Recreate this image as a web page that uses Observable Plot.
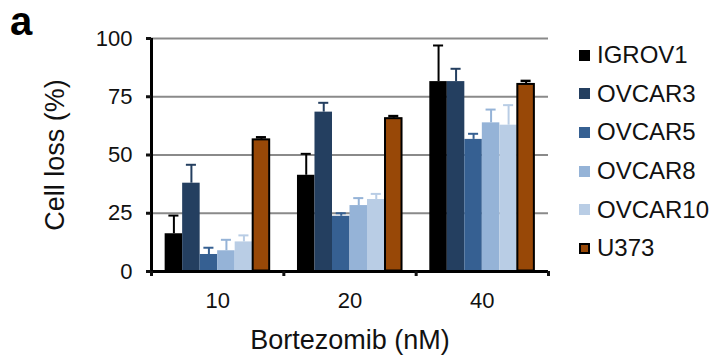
<!DOCTYPE html>
<html>
<head>
<meta charset="utf-8">
<script src="https://cdn.jsdelivr.net/npm/d3@7"></script>
<script src="https://cdn.jsdelivr.net/npm/@observablehq/plot@0.6"></script>
<style>
  html, body { margin: 0; padding: 0; background: #fff; }
  #wrap { position: relative; width: 710px; height: 358px; font-family: "Liberation Sans", Arial, sans-serif; }
  #panel { position: absolute; left: 10px; top: -1px; font-size: 40px; font-weight: bold; line-height: normal; }
  #legend { position: absolute; left: 579px; top: 36px; font-size: 24px; color: #111; }
  .item { display: flex; align-items: center; height: 38.6px; }
  .sw { width: 11px; height: 11px; margin-right: 7px; box-sizing: border-box; flex: none; }
</style>
</head>
<body>
<div id="wrap">
  <div id="chart"></div>
  <div id="panel">a</div>
  <div id="legend"></div>
</div>
<script>
const categories = ["10", "20", "40"];
const series = ["IGROV1", "OVCAR3", "OVCAR5", "OVCAR8", "OVCAR10", "U373"];
const colors = ["#000000", "#243F60", "#366092", "#95B3D7", "#B9CDE5", "#984807"];
const yTicks = [0, 25, 50, 75, 100];

const IGROV1  = [16.2, 41.3, 81.5];
const OVCAR3  = [37.9, 68.4, 81.5];
const OVCAR5  = [7.3, 23.7, 56.7];
const OVCAR8  = [8.9, 28.3, 63.8];
const OVCAR10 = [12.7, 30.9, 62.8];
const U373    = [56.7, 65.8, 80.5];

const IGROV1_err  = [7.8, 9.2, 15.5];
const OVCAR3_err  = [7.9, 4.0, 5.5];
const OVCAR5_err  = [2.9, 1.3, 2.4];
const OVCAR8_err  = [4.7, 3.2, 5.7];
const OVCAR10_err = [2.8, 2.4, 8.6];
const U373_err    = [0.9, 0.9, 1.3];

const values = [IGROV1, OVCAR3, OVCAR5, OVCAR8, OVCAR10, U373];
const errors = [IGROV1_err, OVCAR3_err, OVCAR5_err, OVCAR8_err, OVCAR10_err, U373_err];

const barW = 0.1323;   // bar width in group units
const capW = 0.038;    // half cap width in group units

const rows = [];
categories.forEach((c, ci) => {
  series.forEach((s, si) => {
    const x1 = (ci + 1) + (si - 3) * barW;
    rows.push({cat: c, series: s, value: values[si][ci], err: errors[si][ci],
               x1, x2: x1 + barW, xc: x1 + barW / 2});
  });
});
const bounds = d3.range(categories.length + 1).map(i => i + 0.5);
const centers = categories.map((c, i) => i + 1);

const isU = d => d.series === "U373";

const chart = Plot.plot({
  width: 710,
  height: 358,
  marginLeft: 151,
  marginRight: 162,
  marginTop: 38,
  marginBottom: 87,
  style: {fontFamily: "'Liberation Sans', Arial, sans-serif", fontSize: "22px", color: "#111", background: "#fff"},
  x: {type: "linear", domain: [0.5, categories.length + 0.5]},
  y: {domain: [0, 100]},
  color: {domain: series, range: colors},
  marks: [
    Plot.ruleY([25, 50, 75, 100], {stroke: "#8a8a8a", strokeWidth: 2}),
    Plot.rectY(rows, {x1: "x1", x2: "x2", y1: 0, y2: "value", fill: "series"}),
    Plot.rectY(rows.filter(isU), {x1: "x1", x2: "x2", y1: 0, y2: "value", fill: "series", stroke: "#000", strokeWidth: 2, inset: 0.5}),
    Plot.ruleX(rows.filter(d => !isU(d)), {x: "xc", y1: "value", y2: d => d.value + d.err, stroke: "series", strokeWidth: 2}),
    Plot.ruleY(rows.filter(d => !isU(d)), {y: d => d.value + d.err, x1: d => d.xc - capW, x2: d => d.xc + capW, stroke: "series", strokeWidth: 2}),
    Plot.ruleX(rows.filter(isU), {x: "xc", y1: "value", y2: d => d.value + d.err, stroke: "#000", strokeWidth: 2}),
    Plot.ruleY(rows.filter(isU), {y: d => d.value + d.err, x1: d => d.xc - capW, x2: d => d.xc + capW, stroke: "#000", strokeWidth: 2.5}),
    Plot.ruleY([0], {stroke: "#000", strokeWidth: 3}),
    Plot.ruleX([0.5], {y1: 0, y2: 100, stroke: "#000", strokeWidth: 3}),
    Plot.axisY({ticks: yTicks, tickSize: 5, strokeWidth: 3, tickPadding: 14, fontSize: 22, label: null}),
    Plot.axisY({ticks: [], label: "Cell loss (%)", labelAnchor: "center", labelArrow: "none", labelOffset: 107, fontSize: 27}),
    Plot.axisX({ticks: bounds, tickSize: 5, strokeWidth: 3, tickFormat: () => "", label: null}),
    Plot.axisX({ticks: centers, tickSize: 0, tickPadding: 21, tickFormat: i => categories[i - 1], fontSize: 22, label: null}),
    Plot.axisX({ticks: [], label: "Bortezomib (nM)", labelAnchor: "center", labelArrow: "none", labelOffset: 77, fontSize: 27})
  ]
});
document.getElementById("chart").appendChild(chart);

const legend = document.getElementById("legend");
series.forEach((s, i) => {
  const item = document.createElement("div");
  item.className = "item";
  const sw = document.createElement("span");
  sw.className = "sw";
  sw.style.background = colors[i];
  if (s === "U373") sw.style.border = "2px solid #000";
  item.appendChild(sw);
  const t = document.createElement("span");
  t.textContent = s;
  item.appendChild(t);
  legend.appendChild(item);
});
</script>
</body>
</html>
